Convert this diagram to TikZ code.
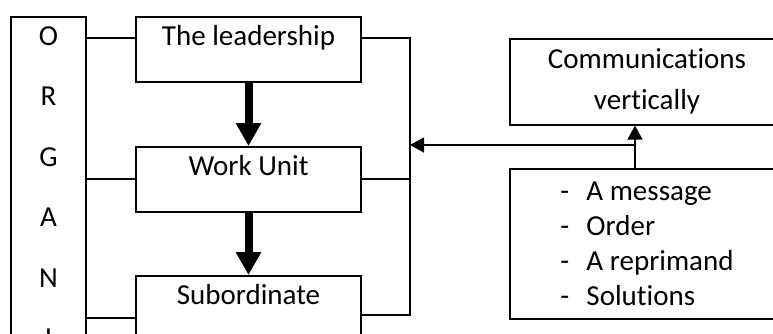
\documentclass[tikz,border=0pt]{standalone}
\usepackage{fontspec}
\setmainfont{Carlito}[Ligatures=NoCommon]
\usetikzlibrary{arrows.meta}
\newcommand{\guion}{\makebox[26pt][l]{-}}

\begin{document}
\begin{tikzpicture}[x=1pt,y=1pt,
        every node/.style={font=\fontsize{29}{41}\selectfont},
        linea/.style={line width=1.6pt},
        caja/.style={draw,linea,minimum width=225pt,text height=25pt,text depth=32pt,inner sep=4pt,anchor=north},
        gruesa/.style={line width=8pt,-{Triangle[length=23pt,width=24pt]}},
        flecha/.style={linea,-{Triangle[length=14pt,width=15pt]}}]
        % Marco
        \useasboundingbox (0,0) rectangle (773,333);
        \clip (0,0) rectangle (773,333);

        % Columna ORGAN...
        \node[draw,linea,minimum width=75pt,minimum height=400pt,inner sep=0pt,anchor=north] (org) at (48.5,317) {};
        \foreach \l [count=\i] in {O,R,G,A,N,I}
            \node[anchor=base] (letra\i) at (48.5,{288-60.5*(\i-1)}) {\l};

        % Cajas centrales
        \node[caja] (lead) at (248.5,317) {The leadership};
        \node[caja] (work) at (248.5,187) {Work Unit};
        \node[caja] (sub) at (248.5,58) {Subordinate};
        \draw[gruesa] (lead.south) -- (work.north);
        \draw[gruesa] (work.south) -- (sub.north);

        % Lineas izquierda
        \foreach \y/\caja in {295/lead,154/work,15/sub}
            \draw[linea] (org.east |- 0,\y) -- (\caja.west |- 0,\y);

        % Linea derecha
        \coordinate (bus) at (410,18);
        \draw[linea] (lead.east |- 0,295) -| (bus) -- (sub.east |- bus);
        \draw[linea] (work.east |- 0,154) -- (bus |- 0,154);

        % Cajas derecha
        \node[draw,linea,minimum width=274pt,minimum height=86pt,align=center,anchor=north] (comm) at (647,295) {Communications\\vertically};
        \node[draw,linea,minimum width=274pt,minimum height=150pt,align=left,anchor=north,font=\fontsize{29}{35}\selectfont] (list) at (647,165)
            {\guion A message\\\guion Order\\\guion A reprimand\\\guion Solutions};

        % Flechas
        \coordinate (tronco) at (635,188);
        \draw[flecha] (list.north -| tronco) -- (comm.south -| tronco);
        \draw[flecha] (tronco) -- (tronco -| bus);
    \end{tikzpicture}
\end{document}
